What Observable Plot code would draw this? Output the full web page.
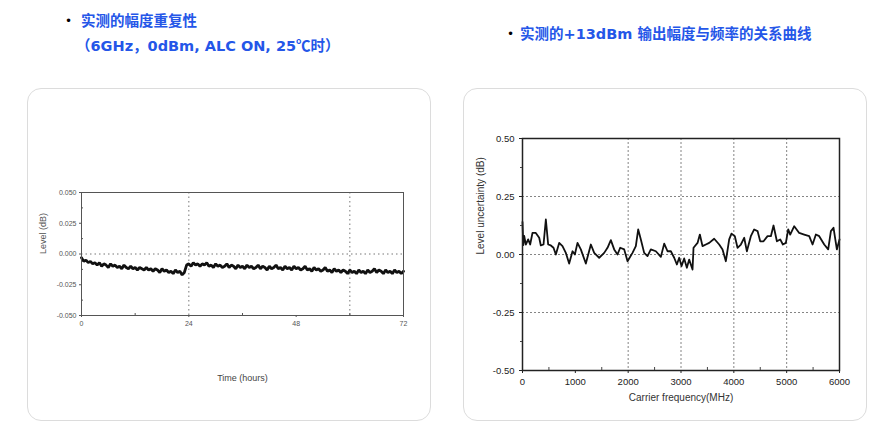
<!DOCTYPE html>
<html>
<head>
<meta charset="utf-8">
<script src="https://cdn.jsdelivr.net/npm/d3@7"></script>
<script src="https://cdn.jsdelivr.net/npm/@observablehq/plot@0.6"></script>
<style>
  body { margin: 0; background: #fff; }
  #page { position: relative; width: 891px; height: 430px; overflow: hidden; background: #fff; }
  .title { position: absolute; color: #2456e8; font-weight: bold; font-size: 14.5px; white-space: nowrap;
           font-family: "DejaVu Sans", "Noto Sans CJK SC", sans-serif; line-height: 18px; }
  .cjk { font-family: "Noto Sans CJK SC", sans-serif; }
  .bullet { position: absolute; color: #000; font-size: 12px; font-family: "DejaVu Sans", sans-serif; line-height: 18px; }
  .box { position: absolute; border: 1px solid #dcdcdc; border-radius: 14px; box-sizing: border-box; background: #fff; }
  .chart { position: absolute; }
  .chart svg { overflow: visible; }
</style>
</head>
<body>
<div id="page">
  <div class="bullet" style="left:65px;top:12px">•</div>
  <div class="title" style="left:81px;top:12px">实测的幅度重复性</div>
  <div class="title" style="left:76px;top:36px">（6GHz，0dBm, ALC ON, 25<span class="cjk">℃</span>时）</div>
  <div class="bullet" style="left:507px;top:25px">•</div>
  <div class="title" style="left:520px;top:25px">实测的+13dBm 输出幅度与频率的关系曲线</div>
  <div class="box" style="left:27px;top:88px;width:404px;height:333px"></div>
  <div class="box" style="left:463px;top:88px;width:404px;height:333px"></div>
  <div class="chart" id="left" style="left:27px;top:88px"></div>
  <div class="chart" id="right" style="left:463px;top:88px"></div>
</div>
<script>
// ---------- Left chart: amplitude repeatability vs time ----------
const timeStep = 0.5; // hours between samples
const levelDb = [
  -0.003,-0.006,-0.005,-0.007,-0.006,-0.008,-0.007,-0.009,-0.007,-0.010,
  -0.008,-0.009,-0.011,-0.008,-0.010,-0.009,-0.011,-0.010,-0.012,-0.009,
  -0.011,-0.012,-0.010,-0.012,-0.011,-0.013,-0.011,-0.012,-0.013,-0.011,
  -0.013,-0.012,-0.014,-0.012,-0.013,-0.015,-0.012,-0.014,-0.013,-0.015,
  -0.014,-0.016,-0.013,-0.015,-0.014,-0.017,-0.015,-0.009,-0.008,-0.010,
  -0.007,-0.009,-0.008,-0.010,-0.008,-0.009,-0.007,-0.010,-0.009,-0.011,
  -0.008,-0.010,-0.009,-0.011,-0.010,-0.008,-0.011,-0.009,-0.010,-0.012,
  -0.009,-0.011,-0.010,-0.012,-0.009,-0.011,-0.010,-0.012,-0.011,-0.009,
  -0.012,-0.010,-0.011,-0.013,-0.010,-0.012,-0.011,-0.009,-0.012,-0.011,
  -0.013,-0.010,-0.012,-0.011,-0.013,-0.010,-0.012,-0.011,-0.013,-0.012,
  -0.010,-0.013,-0.012,-0.014,-0.011,-0.013,-0.012,-0.014,-0.013,-0.011,
  -0.014,-0.013,-0.015,-0.012,-0.014,-0.013,-0.015,-0.013,-0.014,-0.016,
  -0.013,-0.015,-0.014,-0.016,-0.013,-0.015,-0.014,-0.016,-0.013,-0.015,
  -0.014,-0.012,-0.015,-0.013,-0.014,-0.016,-0.013,-0.015,-0.014,-0.016,
  -0.013,-0.015,-0.014,-0.016,-0.014
];
const timeTicks = [0, 24, 48, 72];
const timeMinorTicks = [12, 36, 60];
const timeGrid = [24, 60];
const levelTicks = [-0.05, -0.025, 0, 0.025, 0.05];
const levelMinorTicks = [-0.0375, -0.0125, 0.0125, 0.0375];
const levelGrid = [0];

// ---------- Right chart: +13 dBm level vs carrier frequency ----------
const freqMHz = [0,15,32,63,107,145,189,252,316,347,398,442,486,536,587,631,694,757,820,883,
  947,991,1041,1104,1199,1294,1357,1451,1546,1609,1672,1735,1798,1849,1925,1988,2082,2145,2190,2240,
  2303,2366,2429,2524,2619,2682,2745,2808,2871,2922,2966,3010,3060,3111,3155,3218,3237,3313,3357,3407,
  3471,3534,3628,3723,3786,3849,3912,3956,4019,4070,4133,4196,4247,4322,4385,4449,4499,4562,4638,4701,
  4751,4815,4878,4928,4985,5029,5067,5143,5237,5332,5427,5490,5553,5616,5711,5786,5837,5887,5950,6000];
const uncertDb = [0.14,0.04,0.08,0.043,0.065,0.043,0.093,0.093,0.072,0.039,0.043,0.151,0.043,0.039,0.029,0.0,0.05,0.036,0.007,-0.039,
  0.014,0.0,0.05,0.022,-0.039,0.043,0.007,-0.014,0.007,0.029,0.062,0.022,0.0,0.029,0.022,-0.029,0.007,0.036,0.108,0.065,
  0.007,-0.007,0.022,0.014,-0.01,0.047,0.014,0.014,-0.014,-0.043,-0.014,-0.05,-0.017,-0.057,-0.022,-0.065,0.029,0.05,0.086,0.036,
  0.043,0.05,0.068,0.043,0.022,-0.029,0.065,0.09,0.079,0.029,0.043,0.072,0.014,0.079,0.108,0.101,0.057,0.057,0.079,0.079,
  0.125,0.057,0.065,0.043,0.05,0.108,0.086,0.122,0.093,0.086,0.079,0.043,0.086,0.079,0.043,0.022,0.101,0.115,0.022,0.065];
const freqTicks = [0, 1000, 2000, 3000, 4000, 5000, 6000];
const freqMinorTicks = [500, 1500, 2500, 3500, 4500, 5500];
const freqGrid = [2000, 3000, 4000, 5000];
const uncTicks = [-0.5, -0.25, 0, 0.25, 0.5];
const uncMinorTicks = [-0.375, -0.125, 0.125, 0.375];
const uncGrid = [-0.25, 0, 0.25];

// ---------- build left ----------
const leftData = levelDb.map((v, i) => ({t: i * timeStep, v}));
const leftPlot = Plot.plot({
  width: 404, height: 332,
  marginLeft: 54, marginRight: 28, marginTop: 104, marginBottom: 105,
  style: {fontFamily: "Liberation Sans, Arial, sans-serif", fontSize: "7px", color: "#555", background: "transparent", overflow: "visible"},
  x: {domain: [0, 72]},
  y: {domain: [-0.05, 0.05]},
  marks: [
    Plot.ruleY(levelGrid, {stroke: "#777", strokeDasharray: "1.5,3", strokeWidth: 1}),
    Plot.ruleX(timeGrid, {stroke: "#777", strokeDasharray: "1.5,3", strokeWidth: 1}),
    Plot.line(leftData, {x: "t", y: "v", stroke: "#111", strokeWidth: 2.8, strokeLinejoin: "miter"}),
    Plot.frame({stroke: "#555", strokeWidth: 1}),
    Plot.axisX(timeTicks, {tickSize: 2, tickPadding: 4, tickFormat: d => String(d), label: null, color: "#555"}),
    Plot.axisX(timeMinorTicks, {tickSize: -2, tickFormat: () => "", label: null, color: "#555"}),
    Plot.axisY(levelTicks, {tickSize: 2, tickPadding: 3, tickFormat: d => d.toFixed(3), label: null, color: "#555"}),
    Plot.axisY(levelMinorTicks, {tickSize: -2, tickFormat: () => "", label: null, color: "#555"}),
    Plot.text(["Level (dB)"], {frameAnchor: "left", rotate: -90, dx: -38, fontSize: 9, fill: "#555"}),
    Plot.text(["Time (hours)"], {frameAnchor: "bottom", dy: 65, fontSize: 9, fill: "#444"})
  ]
});
document.getElementById("left").appendChild(leftPlot);

// ---------- build right ----------
const rightData = freqMHz.map((f, i) => ({f, v: uncertDb[i]}));
const rightPlot = Plot.plot({
  width: 404, height: 332,
  marginLeft: 59, marginRight: 28, marginTop: 50, marginBottom: 50,
  style: {fontFamily: "Liberation Sans, Arial, sans-serif", fontSize: "9.5px", color: "#333", background: "transparent", overflow: "visible"},
  x: {domain: [0, 6000]},
  y: {domain: [-0.5, 0.5]},
  marks: [
    Plot.ruleY(uncGrid, {stroke: "#666", strokeDasharray: "2,2", strokeWidth: 0.8}),
    Plot.ruleX(freqGrid, {stroke: "#666", strokeDasharray: "2,2", strokeWidth: 0.8}),
    Plot.line(rightData, {x: "f", y: "v", stroke: "#111", strokeWidth: 1.8, curve: "linear"}),
    Plot.frame({stroke: "#222", strokeWidth: 1.5}),
    Plot.axisX(freqTicks, {tickSize: 3, tickPadding: 5, tickFormat: d => String(d), label: null, color: "#222"}),
    Plot.axisX(freqMinorTicks, {tickSize: -3, tickFormat: () => "", label: null, color: "#444"}),
    Plot.axisY(uncTicks, {tickSize: 3, tickPadding: 5, tickFormat: d => d.toFixed(2), label: null, color: "#222"}),
    Plot.axisY(uncMinorTicks, {tickSize: 2, tickFormat: () => "", label: null, color: "#444"}),
    Plot.text(["Level uncertainty (dB)"], {frameAnchor: "left", rotate: -90, dx: -42, fontSize: 10, fill: "#333"}),
    Plot.text(["Carrier frequency(MHz)"], {frameAnchor: "bottom", dy: 30, fontSize: 10, fill: "#333"})
  ]
});
document.getElementById("right").appendChild(rightPlot);
</script>
</body>
</html>
